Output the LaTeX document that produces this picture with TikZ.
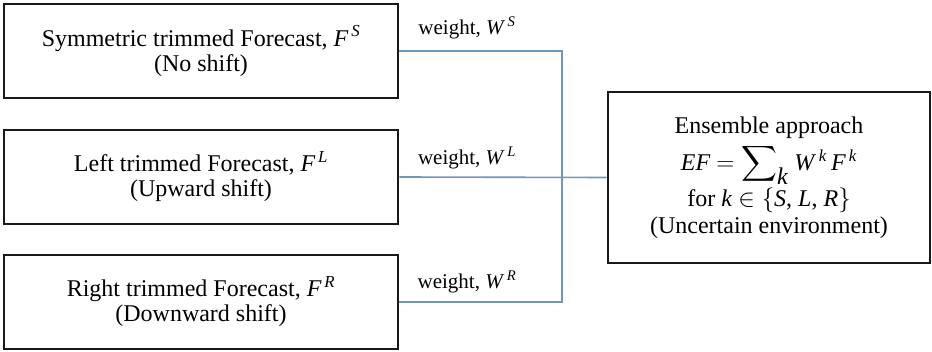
\documentclass[tikz,border=0pt]{standalone}
\usepackage{fontspec}
\usepackage{exscale}
\setmainfont{Liberation Serif}
% italic letter with an italic superscript
\newcommand{\vsup}[2]{\textit{#1}\textsuperscript{\,\textit{#2}}}
\begin{document}
\begin{tikzpicture}[x=1pt,y=-1pt,
  fbox/.style={draw={rgb,255:red,25;green,25;blue,25},line width=2.6pt,
    minimum width=394pt,minimum height=94pt,
    align=center,font=\fontsize{24}{25}\selectfont,inner sep=0pt},
  ebox/.style={draw={rgb,255:red,25;green,25;blue,25},line width=2.6pt,
    minimum width=322pt,minimum height=171pt,
    align=center,font=\fontsize{24}{27}\selectfont,inner sep=0pt},
  link/.style={draw={rgb,255:red,112;green,150;blue,186},line width=1.6pt},
  wlabel/.style={font=\fontsize{21}{25}\selectfont,inner sep=0pt}]
\useasboundingbox (0,0) rectangle (932,352);

\node[fbox] (fs) at (201,51) {Symmetric trimmed Forecast, \vsup{F}{S}\\(No shift)};
\node[fbox] (fl) at (201,177) {Left trimmed Forecast, \vsup{F}{L}\\(Upward shift)};
\node[fbox] (fr) at (201,302) {Right trimmed Forecast, \vsup{F}{R}\\(Downward shift)};

\node[ebox] (ens) at (769,177.5) {Ensemble approach\\[5pt]
  \textit{EF} $=\displaystyle\sum\nolimits_{\textit{k}}$ \vsup{W}{k}\,\vsup{F}{k}\\[2pt]
  for \textit{k} $\in\{$\textit{S}, \textit{L}, \textit{R}$\}$\\
  (Uncertain environment)};

\coordinate (top) at (562,51);
\coordinate (bot) at (562,302);

\draw[link] (fs.east) -- (top) -- (bot) -- (fr.east);
\draw[link] (fl.east) -- (ens.west);

\node[wlabel] (ws) at (467,28) {weight, \vsup{W}{S}};
\node[wlabel] (wl) at (467,158) {weight, \vsup{W}{L}};
\node[wlabel] (wr) at (467,282) {weight, \vsup{W}{R}};
\end{tikzpicture}
\end{document}
